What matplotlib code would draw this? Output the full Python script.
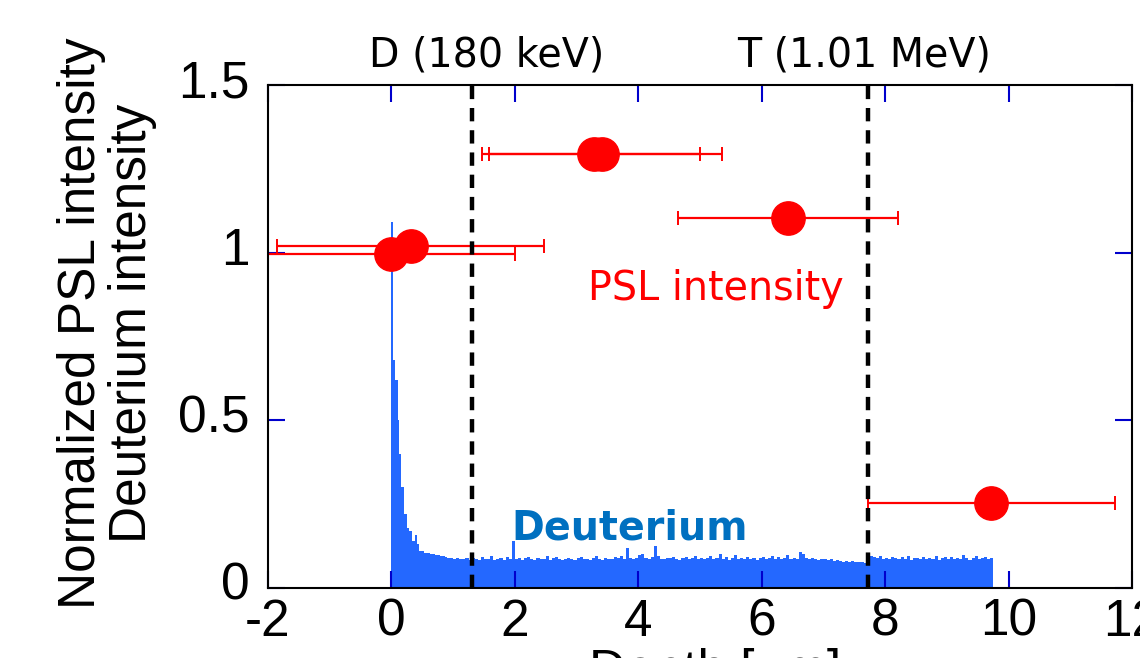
import numpy as np
from matplotlib import pyplot as plt
from matplotlib.transforms import ScaledTranslation

# PSL intensity points (depth in um, normalized intensity, depth error)
psl_depth = [0.00, 0.31, 3.29, 3.41, 6.43, 9.72]
psl_value = [0.995, 1.021, 1.295, 1.295, 1.104, 0.254]
psl_depth_err = [2.0, 2.17, 1.71, 1.94, 1.78, 2.0]

# deuterium profile near the surface (variable bins)
peak_edges = [0.0, 0.02, 0.05, 0.10, 0.13, 0.16, 0.21, 0.26, 0.29, 0.34, 0.38, 0.42,
              0.45, 0.53, 0.62, 0.70, 0.78, 0.86, 0.90]
peak_values = [1.09, 0.68, 0.62, 0.50, 0.40, 0.30, 0.22, 0.18, 0.17, 0.14, 0.158, 0.13,
               0.11, 0.105, 0.10, 0.097, 0.094, 0.091]

# deuterium profile from 0.90 to 9.75 um, 0.05 um bins
flat_values = [
    0.090, 0.088,
    0.087, 0.089, 0.086, 0.085, 0.088, 0.084, 0.090, 0.086, 0.083, 0.091,
    0.085, 0.087, 0.094, 0.084, 0.086, 0.089, 0.083, 0.092, 0.087, 0.140,
    0.085, 0.090, 0.084, 0.088, 0.093, 0.086, 0.083, 0.089, 0.087, 0.085,
    0.096, 0.084, 0.088, 0.091, 0.085, 0.083, 0.087, 0.090, 0.086, 0.084,
    0.088, 0.092, 0.085, 0.087, 0.083, 0.090, 0.094, 0.086, 0.084, 0.089,
    0.087, 0.085, 0.091, 0.088, 0.095, 0.087, 0.120, 0.090, 0.086, 0.089,
    0.097, 0.101, 0.088, 0.086, 0.092, 0.125, 0.094, 0.087, 0.085, 0.090,
    0.088, 0.093, 0.086, 0.084, 0.089, 0.091, 0.085, 0.088, 0.096, 0.087,
    0.090, 0.086, 0.089, 0.094, 0.085, 0.088, 0.100, 0.087, 0.091, 0.084,
    0.089, 0.097, 0.086, 0.088, 0.085, 0.092, 0.087, 0.090, 0.084, 0.089,
    0.093, 0.086, 0.088, 0.095, 0.087, 0.091, 0.085, 0.089, 0.099, 0.086,
    0.090, 0.087, 0.108, 0.102, 0.088, 0.085, 0.089, 0.086, 0.084, 0.087,
    0.085, 0.083, 0.086, 0.082, 0.084, 0.080, 0.079, 0.081, 0.078, 0.080,
    0.077, 0.079, 0.078, 0.076, 0.080, 0.096, 0.092, 0.089, 0.094, 0.087,
    0.090, 0.086, 0.093, 0.088, 0.085, 0.091, 0.087, 0.096, 0.084, 0.089,
    0.088, 0.085, 0.092, 0.086, 0.090, 0.087, 0.095, 0.084, 0.088, 0.091,
    0.086, 0.093, 0.087, 0.089, 0.085, 0.097, 0.088, 0.084, 0.090, 0.094,
    0.086, 0.088, 0.092, 0.087, 0.090,
]
flat_start = 0.90
flat_step = 0.05

ion_ranges = [1.31, 7.72]
ion_labels = ['D (180 keV)', 'T (1.01 MeV)']
ion_label_x = [1.55, 7.66]

x_ticks = [-2, 0, 2, 4, 6, 8, 10, 12]
y_ticks = [0, 0.5, 1, 1.5]
y_tick_labels = ['0', '0.5', '1', '1.5']

arial = 'Liberation Sans'
tick_blue = '#0000cc'

fig = plt.figure(figsize=(11.4, 6.58), dpi=100)
ax = fig.add_axes([268 / 1140, 70 / 658, 864 / 1140, 503 / 658])

flat_edges = flat_start + flat_step * np.arange(len(flat_values) + 1)
ax.stairs(peak_values, peak_edges, fill=True, color='#2468ff', zorder=1)
ax.stairs(flat_values, flat_edges, fill=True, color='#2468ff', zorder=1)

ax.errorbar(psl_depth, psl_value, xerr=psl_depth_err, fmt='o', color='#ff0000',
            markersize=24, elinewidth=1.6, capsize=5, capthick=1.4, zorder=3)

for xr in ion_ranges:
    ax.axvline(xr, color='black', lw=3.2, linestyle=(0, (3, 2)), zorder=4)

for xl, lab in zip(ion_label_x, ion_labels):
    ax.text(xl, 1.036, lab, transform=ax.get_xaxis_transform(), ha='center',
            va='baseline', fontsize=28.5, family='DejaVu Sans')

ax.text(5.25, 0.86, 'PSL intensity', color='#ff0000', ha='center', va='baseline',
        fontsize=28.5, family='DejaVu Sans')
ax.text(3.86, 0.146, 'Deuterium', color='#0070c0', ha='center', va='baseline',
        fontsize=28.5, fontweight='bold', family='DejaVu Sans')

ax.set_xlim(-2, 12)
ax.set_ylim(0, 1.5)
ax.set_xticks(x_ticks)
ax.set_xticklabels([str(t) for t in x_ticks], family=arial, fontsize=37)
ax.set_yticks(y_ticks)
ax.set_yticklabels(y_tick_labels, family=arial, fontsize=37)
ax.tick_params(axis='both', direction='in', length=12, width=1.5, color=tick_blue,
               top=True, right=True)
ax.tick_params(axis='x', pad=7)
ax.tick_params(axis='y', pad=13)
# y tick labels sit a little above their ticks in the original
shift_up = ScaledTranslation(0, 7 / 100, fig.dpi_scale_trans)
for lbl in ax.get_yticklabels():
    lbl.set_transform(lbl.get_transform() + shift_up)
for sp in ax.spines.values():
    sp.set_linewidth(1.5)
    sp.set_zorder(5)

fig.text(107 / 1140, 1 - 323 / 658, 'Normalized PSL intensity\nDeuterium intensity',
         rotation=90, ha='center', va='center', multialignment='center',
         linespacing=1.05, fontsize=37, family=arial)
fig.text(715 / 1140, 1 - 648 / 658, 'Depth [μm]', ha='center', va='top',
         fontsize=37, family=arial)

fig.savefig('out.png', dpi=100)
